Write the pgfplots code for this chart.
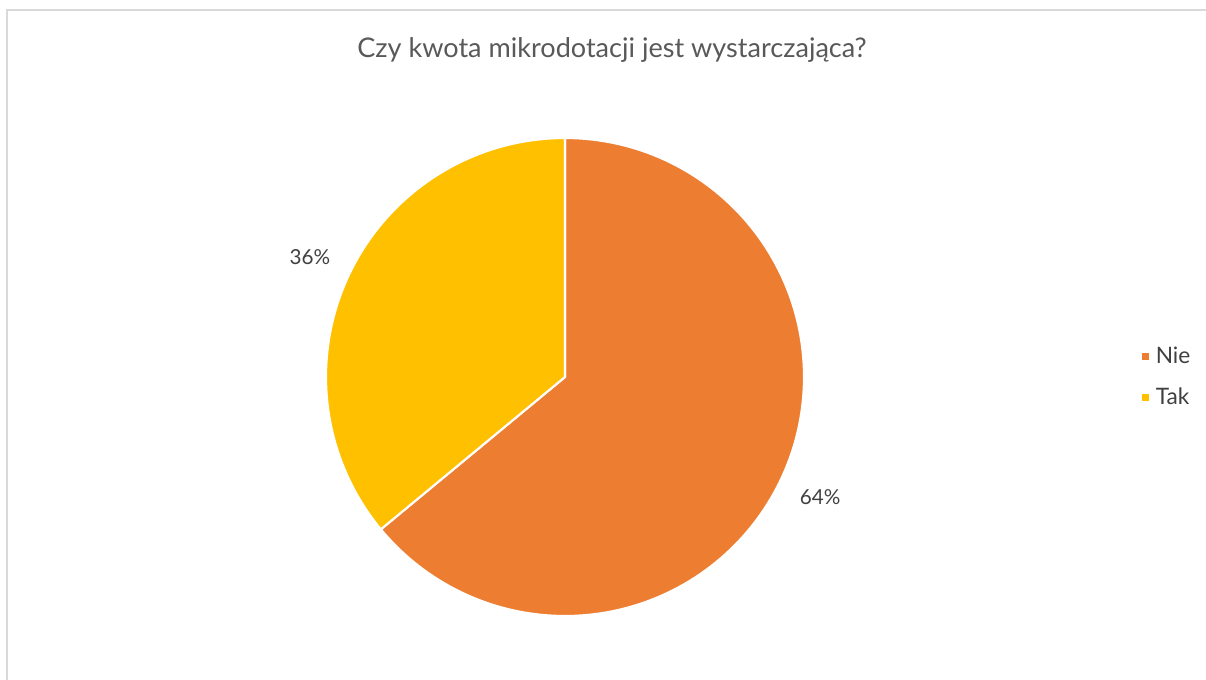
\documentclass[border=0pt]{standalone}
\usepackage{fontspec}
\setmainfont{Lato}
\usepackage{pgfplots}
\usepackage{pgfplotstable}
\pgfplotsset{compat=1.18}

\definecolor{nie}{HTML}{ED7D31}
\definecolor{tak}{HTML}{FFC000}
\definecolor{titlegray}{HTML}{595959}
\definecolor{labelgray}{HTML}{404040}
\definecolor{framegray}{HTML}{D9D9D9}

% answers in percent
\pgfplotstableread{
label value
Nie   64
Tak   36
}\piedata

\begin{document}
\begin{tikzpicture}
\pgfplotstablegetelem{0}{value}\of\piedata \let\vNie\pgfplotsretval
\pgfplotstablegetelem{1}{value}\of\piedata \let\vTak\pgfplotsretval
\pgfmathsetmacro\aA{90}
\pgfmathsetmacro\aB{90-3.6*\vNie}
\pgfmathsetmacro\aC{\aB-3.6*\vTak}
\pgfmathsetmacro\mNie{(\aA+\aB)/2}
\pgfmathsetmacro\mTak{(\aB+\aC)/2}

\begin{scope}[x=0.75pt,y=0.75pt]
\path[use as bounding box] (0,0) rectangle (1206,679);
\coordinate (pc) at (565,302);
\begin{scope}
\clip (0,0) rectangle (1206,679);
\draw[framegray, line width=1.6pt] (7,-5) -- (7,669) -- (1215,669);
\end{scope}
\node[font=\fontsize{20.3}{22}\selectfont, text=titlegray] at (612,629) {Czy kwota mikrodotacji jest wystarczająca?};
\end{scope}

\begin{axis}[
  at={(pc)}, anchor=center,
  width=358.5pt, height=358.5pt, scale only axis,
  hide axis, xmin=-1, xmax=1, ymin=-1, ymax=1,
  clip=false,
  legend style={at={(rel axis cs:1.707,0.5)}, anchor=west, draw=none, fill=none,
    font=\fontsize{17}{19}\selectfont, text=labelgray, row sep=13pt,
    column sep=3pt, inner sep=0pt},
  legend cell align=left,
  legend image code/.code={\fill[#1,draw=none] (0pt,-2.6pt) rectangle (5.2pt,2.6pt);},
]
\addplot[fill=nie, draw=white, line width=1.6pt, domain=\aA:\aB, samples=150]
  ({cos(x)},{sin(x)}) -- (axis cs:0,0) -- cycle;
\addlegendentry{Nie}
\addplot[fill=tak, draw=white, line width=1.6pt, domain=\aB:\aC, samples=100]
  ({cos(x)},{sin(x)}) -- (axis cs:0,0) -- cycle;
\addlegendentry{Tak}
\node[font=\fontsize{15.5}{17}\selectfont, text=labelgray]
  at (axis cs:{1.18*cos(\mNie)},{1.18*sin(\mNie)}) {\vNie\%};
\node[font=\fontsize{15.5}{17}\selectfont, text=labelgray]
  at (axis cs:{1.18*cos(\mTak)},{1.18*sin(\mTak)}) {\vTak\%};
\end{axis}
\end{tikzpicture}
\end{document}
